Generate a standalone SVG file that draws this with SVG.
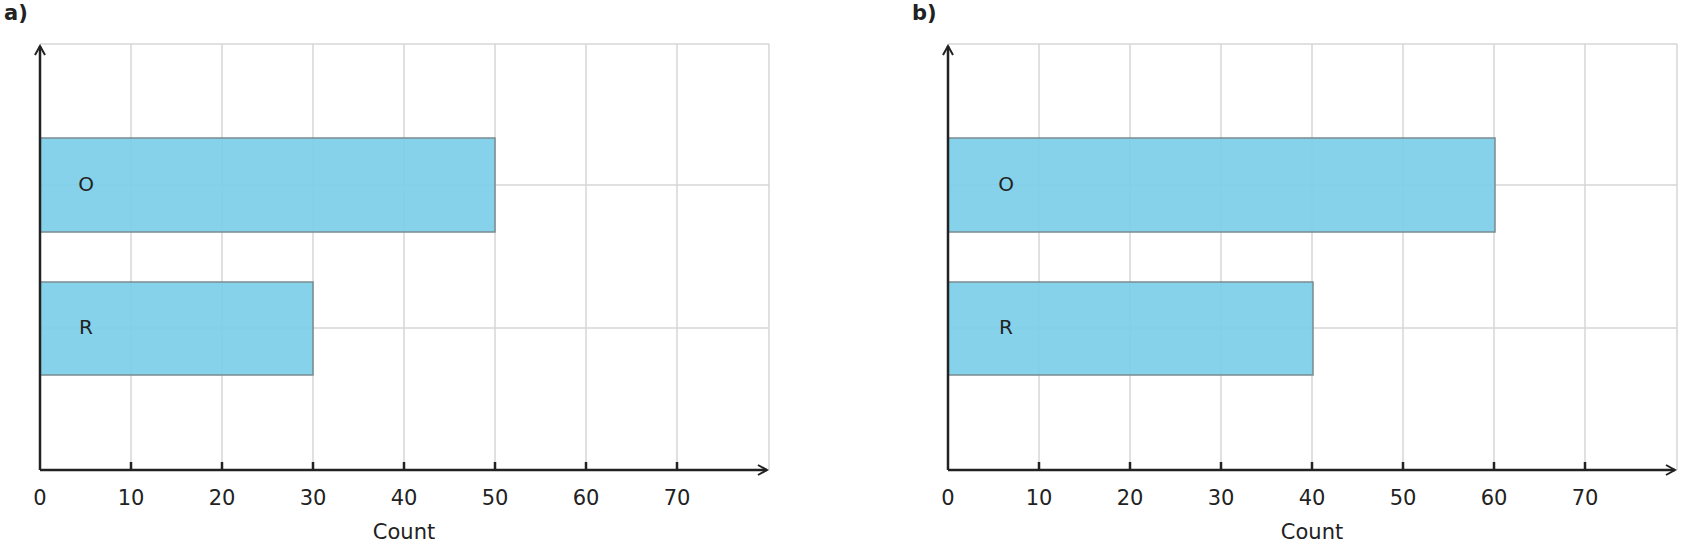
<svg xmlns="http://www.w3.org/2000/svg" width="1681" height="548" viewBox="0 0 1681 548">
<defs>
<style>
.grid{stroke:#d6d6d6;stroke-width:1.5;fill:none}
.axis{stroke:#222;stroke-width:2.5;fill:none}
.bar{fill:#7ccfe8;fill-opacity:0.93;stroke:#7a8a90;stroke-width:1.5}
text{font-family:"DejaVu Sans",sans-serif;fill:#222}
.tl{font-size:21px;text-anchor:middle}
.lab{font-size:20px;text-anchor:middle}
.pl{font-size:21px;font-weight:bold}
</style>
<marker id="ah" viewBox="0 0 12 12" refX="10" refY="6" markerWidth="12" markerHeight="12" markerUnits="userSpaceOnUse" orient="auto"><path d="M1,1 L10,6 L1,11" fill="none" stroke="#222" stroke-width="2"/></marker>
<g id="panel">
<g class="grid">
<path d="M40,44H769M40,185H769M40,328H769M131,44V470M222,44V470M313,44V470M404,44V470M495,44V470M586,44V470M677,44V470M769,44V470"/>
</g>
<g class="axis">
<path d="M131,470v-8M222,470v-8M313,470v-8M404,470v-8M495,470v-8M586,470v-8M677,470v-8"/>
</g>
<g class="tl">
<text x="40" y="505">0</text><text x="131" y="505">10</text><text x="222" y="505">20</text><text x="313" y="505">30</text><text x="404" y="505">40</text><text x="495" y="505">50</text><text x="586" y="505">60</text><text x="677" y="505">70</text>
</g>
<text class="tl" x="404" y="539">Count</text>
</g>
</defs>
<g id="chart-a">
<use href="#panel"/>
<g id="bar-a-O"><rect class="bar" x="40" y="138" width="455" height="94"/><text class="lab" x="86" y="191">O</text></g>
<g id="bar-a-R"><rect class="bar" x="40" y="282" width="273" height="93"/><text class="lab" x="86" y="334">R</text></g>
<text class="pl" x="4" y="20">a)</text>
</g>
<g id="chart-b">
<use href="#panel" x="908"/>
<g id="bar-b-O"><rect class="bar" x="948" y="138" width="547" height="94"/><text class="lab" x="1006" y="191">O</text></g>
<g id="bar-b-R"><rect class="bar" x="948" y="282" width="365" height="93"/><text class="lab" x="1006" y="334">R</text></g>
<text class="pl" x="912" y="20">b)</text>
</g>
<g id="connectors" class="axis">
<path d="M40,470V46" marker-end="url(#ah)"/>
<path d="M40,470H767" marker-end="url(#ah)"/>
<path d="M948,470V46" marker-end="url(#ah)"/>
<path d="M948,470H1675" marker-end="url(#ah)"/>
</g>
</svg>
